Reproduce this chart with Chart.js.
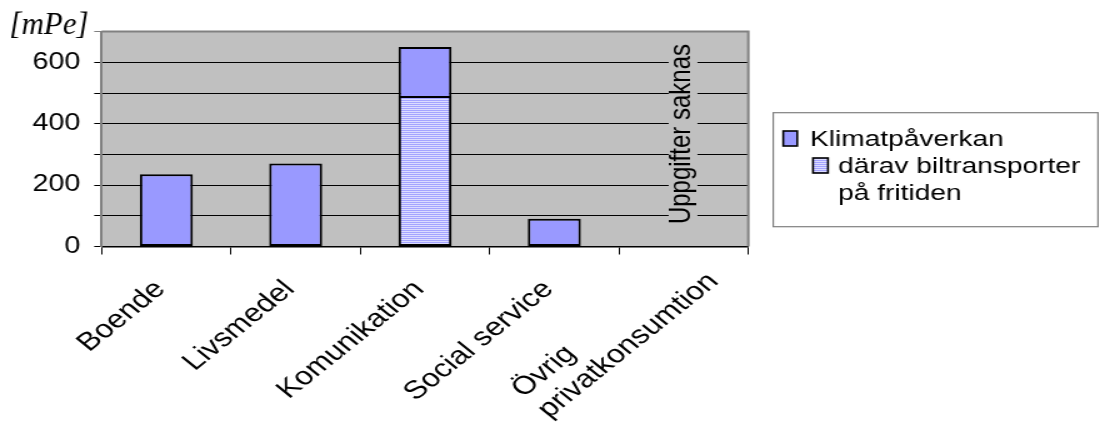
<!DOCTYPE html>
<html>
<head>
<meta charset="utf-8">
<script src="https://cdn.jsdelivr.net/npm/chart.js@4/dist/chart.umd.min.js"></script>
<style>
  html, body { margin: 0; padding: 0; background: #fff; overflow: hidden; }
  #wrap { width: 880px; height: 427px; transform: scaleX(1.25); transform-origin: 0 0; }
  canvas { display: block; }
</style>
</head>
<body>
<div id="wrap"><canvas id="chart" width="880" height="427"></canvas></div>
<script>
// Categories of consumption
const categories = ['Boende', 'Livsmedel', 'Komunikation', 'Social service', ['Övrig', 'privatkonsumtion']];
// Climate impact per category [mPe]
const klimatValues = [235, 270, 650, 90, null];
// Share of which is car transport during leisure time
const biltransportValues = [null, null, 490, null, null];
// Series names (legend lines)
const seriesNames = [['Klimatpåverkan'], ['därav biltransporter', 'på fritiden']];
// Labelled ticks on the value axis
const yTickLabels = [0, 200, 400, 600];
const unitLabel = '[mPe]';
const missingNote = 'Uppgifter saknas';
const missingIndex = 4;

const SX = 1.25;             // horizontal stretch of the whole drawing (see #wrap)
const labelWrapWidth = 167;  // width of a wrapped category label block
const SANS = '"Liberation Sans", Arial, sans-serif';
const SERIF = '"Liberation Serif", "Times New Roman", serif';

// Horizontal hatch fill for the car-transport share
function hatchPattern(ctx) {
  const c = document.createElement('canvas');
  c.width = 4; c.height = 2;
  const p = c.getContext('2d');
  p.fillStyle = '#DCDCFF'; p.fillRect(0, 0, 4, 2);
  p.fillStyle = '#A4A4FF'; p.fillRect(0, 0, 4, 1);
  return ctx.createPattern(c, 'repeat');
}

const canvas = document.getElementById('chart');
const ctx0 = canvas.getContext('2d');

const decorations = {
  id: 'decorations',
  beforeDraw(chart) {
    const { ctx, chartArea: a } = chart;
    ctx.save();
    ctx.fillStyle = '#C0C0C0';
    ctx.fillRect(a.left, a.top, a.right - a.left, a.bottom - a.top);
    ctx.restore();
  },
  beforeDatasetsDraw(chart) {
    const { ctx, chartArea: a, scales } = chart;
    ctx.save();
    // frame of the plot area
    ctx.strokeStyle = '#808080';
    ctx.lineWidth = 2;
    ctx.beginPath();
    ctx.moveTo(a.left, a.top);
    ctx.lineTo(a.right, a.top);
    ctx.lineTo(a.right, a.bottom);
    ctx.stroke();
    // note for the category without data
    const cx = scales.x.getPixelForTick(missingIndex);
    const cy = (a.top + a.bottom) / 2 - 5;
    ctx.font = '24px ' + SANS;
    const w = ctx.measureText(missingNote).width;
    ctx.fillStyle = '#C0C0C0';
    ctx.fillRect(cx - 12, cy - w / 2 - 4, 23, w + 8);
    ctx.translate(cx - 1.5, cy);
    ctx.rotate(-Math.PI / 2);
    ctx.fillStyle = '#000';
    ctx.textAlign = 'center';
    ctx.textBaseline = 'middle';
    ctx.fillText(missingNote, 0, 0);
    ctx.restore();
  },
  afterDraw(chart) {
    const { ctx, scales } = chart;
    const xs = scales.x;
    ctx.save();
    // unit label above the value axis
    ctx.save();
    ctx.translate(7.5, 34);
    ctx.scale(1 / SX, 1);
    ctx.font = 'italic 31px ' + SERIF;
    ctx.fillStyle = '#000';
    ctx.textAlign = 'left';
    ctx.textBaseline = 'alphabetic';
    ctx.fillText(unitLabel, 0, 0);
    ctx.restore();

    // rotated category labels: lines left-aligned, block end centred under the tick
    const ang = Math.PI / 4;
    const lh = 29.3;
    ctx.font = '25.5px ' + SANS;
    ctx.fillStyle = '#000';
    ctx.textAlign = 'left';
    ctx.textBaseline = 'middle';
    categories.forEach((lab, i) => {
      const lines = Array.isArray(lab) ? lab : [lab];
      const maxW = Math.max(...lines.map(l => ctx.measureText(l).width));
      const blockW = Math.min(maxW, labelWrapWidth);
      const px = xs.getPixelForTick(i);
      ctx.save();
      ctx.translate(px - 4.7, xs.top + 38.8);
      ctx.rotate(-ang);
      lines.forEach((l, k) => ctx.fillText(l, -blockW, (k - (lines.length - 1) / 2) * lh));
      ctx.restore();
    });

    // legend
    const bx = 618.6, by = 112.7, bw = 259.8, bh = 114;
    ctx.strokeStyle = '#808080';
    ctx.lineWidth = 1.2;
    ctx.strokeRect(bx, by, bw, bh);
    const entries = [
      { mx: 626.6, my: 131, mw: 11.2, mh: 15, tx: 648, ty: 146 },
      { mx: 650.4, my: 158, mw: 12, mh: 15, tx: 670.4, ty: 173 }
    ];
    ctx.font = '22.5px ' + SANS;
    ctx.textBaseline = 'alphabetic';
    chart.data.datasets.forEach(ds => {
      const e = entries[ds.legendSlot];
      ctx.fillStyle = ds.backgroundColor;
      ctx.fillRect(e.mx, e.my, e.mw, e.mh);
      ctx.strokeStyle = '#000';
      ctx.lineWidth = 1.6;
      ctx.strokeRect(e.mx, e.my, e.mw, e.mh);
      ctx.fillStyle = '#000';
      seriesNames[ds.legendSlot].forEach((line, k) => ctx.fillText(line, e.tx, e.ty + k * 27));
    });
    ctx.restore();
  }
};

new Chart(canvas, {
  type: 'bar',
  data: {
    labels: categories,
    datasets: [
      {
        label: seriesNames[1].join(' '),
        legendSlot: 1,
        data: biltransportValues,
        backgroundColor: hatchPattern(ctx0),
        borderColor: '#000',
        borderWidth: 2,
        borderSkipped: false,
        grouped: false,
        barPercentage: 0.41,
        categoryPercentage: 1,
        order: 0
      },
      {
        label: seriesNames[0].join(' '),
        legendSlot: 0,
        data: klimatValues,
        backgroundColor: '#9999FF',
        borderColor: '#000',
        borderWidth: 2,
        borderSkipped: false,
        grouped: false,
        barPercentage: 0.41,
        categoryPercentage: 1,
        order: 1
      }
    ]
  },
  options: {
    responsive: false,
    animation: false,
    devicePixelRatio: 1,
    layout: { padding: { top: 31.6, right: 880 - 598.64, left: 0, bottom: 0 } },
    plugins: { legend: { display: false }, tooltip: { enabled: false } },
    scales: {
      x: {
        type: 'category',
        offset: true,
        ticks: { display: false },
        grid: { offset: true, drawOnChartArea: false, drawTicks: true, tickLength: 8, color: '#000', lineWidth: 1 },
        border: { color: '#000', width: 1.5 },
        afterFit(scale) { scale.height = 427 - 246.5; }
      },
      y: {
        min: 0,
        max: 700,
        ticks: {
          stepSize: 100,
          padding: 11,
          color: '#000',
          font: { family: SANS, size: 23 },
          callback: v => (yTickLabels.includes(v) ? String(v) : '')
        },
        grid: {
          color: c => (c.tick && c.tick.value === 700 ? '#808080' : '#000'),
          lineWidth: 1,
          tickLength: 6,
          drawTicks: true
        },
        border: { color: '#808080', width: 2 },
        afterFit(scale) { scale.width = 81.36; }
      }
    }
  },
  plugins: [decorations]
});
</script>
</body>
</html>
